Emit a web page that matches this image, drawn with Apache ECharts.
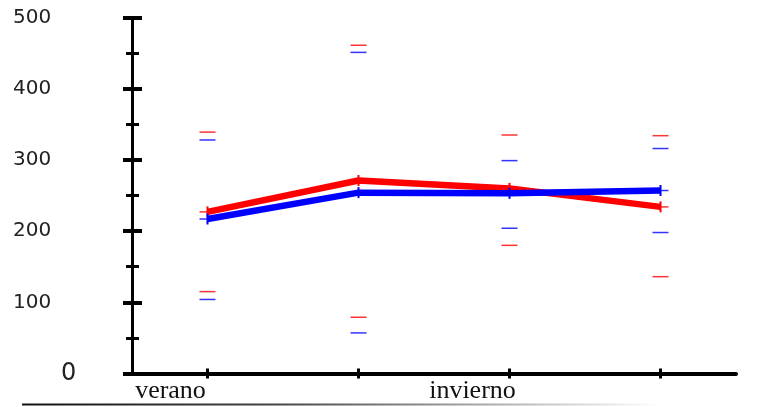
<!DOCTYPE html>
<html><head><meta charset="utf-8">
<script src="https://cdn.jsdelivr.net/npm/echarts@6/dist/echarts.min.js"></script>
<style>html,body{margin:0;padding:0;background:#fff}#c{width:762px;height:407px}</style>
</head><body><div id="c"></div>
<script>
const categories = ['verano', '', 'invierno', ''];
const redMean = [227, 271, 260, 234];
const blueMean = [217, 254, 253, 257];
const redHigh = [339, 461, 335, 334];
const redLow = [115, 79, 180, 136];
const blueHigh = [328, 451, 299, 316];
const blueLow = [104, 57, 204, 198];
const yMin = 0, yMax = 500, yStep = 100;

const RED = '#ff0000', BLUE = '#0000ff';
function pts(arr) { return arr.map((v, i) => [i, v]); }
function capSeries(arr, color) {
  return { type: 'scatter', data: pts(arr), symbol: 'rect', symbolSize: [16, 1.5],
    itemStyle: { color: color }, z: 2, silent: true };
}
const yBase = {
  type: 'value', min: yMin, max: yMax, interval: yStep, position: 'left', offset: 0,
  axisLine: { show: true, lineStyle: { color: '#000', width: 3 } },
  splitLine: { show: false }
};
const chart = echarts.init(document.getElementById('c'), null, { renderer: 'canvas' });
chart.setOption({
  animation: false,
  grid: { left: 132, right: 26, top: 17.5, bottom: 33.5, containLabel: false },
  xAxis: [
    { type: 'category', data: categories, boundaryGap: true, position: 'bottom',
      axisLine: { show: true, lineStyle: { color: '#000', width: 4 } },
      axisTick: { show: true, alignWithLabel: true, length: 5, lineStyle: { color: '#000', width: 3 } },
      axisLabel: { show: true, interval: 0, margin: 5, align: 'center', padding: [0, 74, 0, 0],
        fontFamily: 'Liberation Serif', fontSize: 26, color: '#111' } },
    { type: 'category', data: categories, boundaryGap: true, position: 'bottom', offset: 0,
      axisLine: { show: false },
      axisTick: { show: true, inside: true, alignWithLabel: true, length: 5, lineStyle: { color: '#000', width: 3 } },
      axisLabel: { show: false } }
  ],
  yAxis: [
    Object.assign({}, yBase, {
      axisTick: { show: true, length: 9, lineStyle: { color: '#000', width: 4 } },
      minorTick: { show: true, splitNumber: 2, length: 6, lineStyle: { color: '#000', width: 3 } },
      axisLabel: { show: true, margin: 119, align: 'left', fontFamily: 'DejaVu Sans', fontSize: 20, color: '#222',
        formatter: v => v === 0 ? '{z|0}' : String(v),
        rich: { z: { fontFamily: 'DejaVu Sans', fontSize: 24, color: '#222', padding: [0, 0, 0, 48] } } }
    }),
    Object.assign({}, yBase, {
      axisLine: { show: false },
      axisTick: { show: true, inside: true, length: 10, lineStyle: { color: '#000', width: 4 } },
      minorTick: { show: true, splitNumber: 2, length: 7, lineStyle: { color: '#000', width: 3 } },
      axisLabel: { show: false }
    })
  ],
  graphic: [{
    type: 'line', silent: true,
    shape: { x1: 22, y1: 404.5, x2: 680, y2: 404.5 },
    style: { lineWidth: 2, stroke: { type: 'linear', x: 22, y: 0, x2: 660, y2: 0, global: true,
      colorStops: [{ offset: 0, color: '#111' }, { offset: 0.4, color: '#444' }, { offset: 1, color: '#fff' }] } }
  }],
  series: [
    capSeries(redHigh, RED), capSeries(redLow, RED), capSeries(redMean, RED),
    capSeries(blueHigh, BLUE), capSeries(blueLow, BLUE), capSeries(blueMean, BLUE),
    { type: 'line', data: redMean, symbol: 'rect', symbolSize: [2, 11], showSymbol: true,
      lineStyle: { color: RED, width: 6.5 }, itemStyle: { color: RED }, z: 3 },
    { type: 'line', data: blueMean, symbol: 'rect', symbolSize: [2, 11], showSymbol: true,
      lineStyle: { color: BLUE, width: 6.5 }, itemStyle: { color: BLUE }, z: 4 }
  ]
});
</script></body></html>
